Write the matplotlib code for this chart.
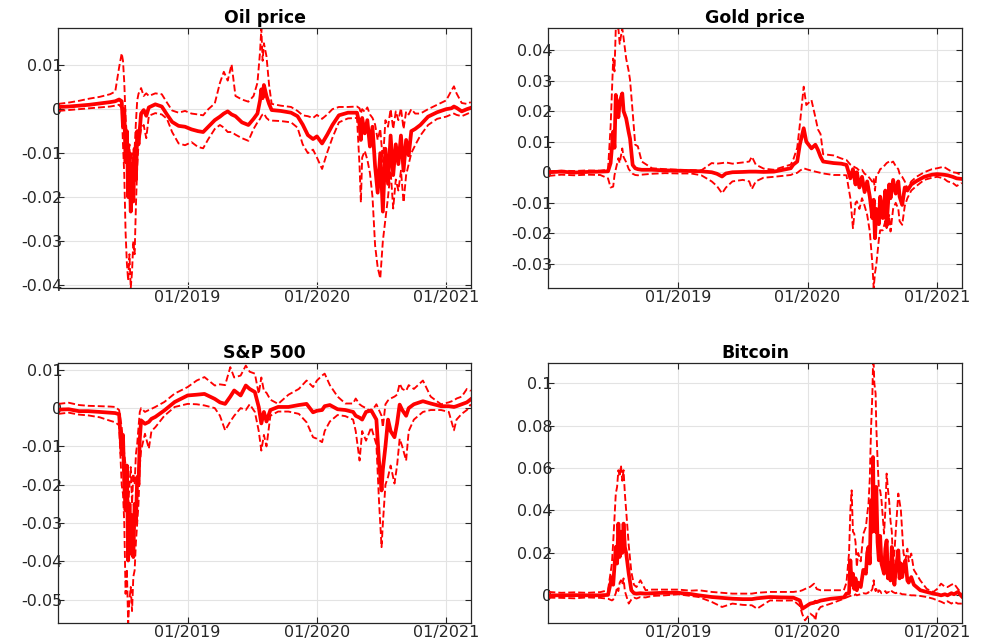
import matplotlib
matplotlib.use("Agg")
import matplotlib.pyplot as plt
from matplotlib.ticker import FuncFormatter

# time in fractional years, median response and the lower / upper bands
oil_t = [2018.00, 2018.08, 2018.16, 2018.24, 2018.32, 2018.40, 2018.44, 2018.47, 2018.49, 2018.50,
         2018.51, 2018.52, 2018.53, 2018.54, 2018.55, 2018.56, 2018.57, 2018.58, 2018.59, 2018.60,
         2018.61, 2018.62, 2018.64, 2018.66, 2018.68, 2018.70, 2018.75, 2018.80, 2018.84, 2018.88,
         2018.93, 2018.98, 2019.03, 2019.08, 2019.12, 2019.16, 2019.21, 2019.25, 2019.28, 2019.31,
         2019.34, 2019.37, 2019.42, 2019.47, 2019.51, 2019.54, 2019.56, 2019.57, 2019.58, 2019.59,
         2019.61, 2019.63, 2019.65, 2019.72, 2019.80, 2019.85, 2019.89, 2019.93, 2019.97, 2020.00,
         2020.04, 2020.08, 2020.12, 2020.17, 2020.24, 2020.31, 2020.33, 2020.34, 2020.35, 2020.37,
         2020.39, 2020.41, 2020.43, 2020.45, 2020.47, 2020.49, 2020.51, 2020.53, 2020.55, 2020.57,
         2020.59, 2020.61, 2020.63, 2020.65, 2020.67, 2020.69, 2020.71, 2020.73, 2020.76, 2020.80,
         2020.86, 2020.93, 2021.00, 2021.04, 2021.06, 2021.08, 2021.12, 2021.16, 2021.19]
oil_mid = [0.0005, 0.0006, 0.0008, 0.0010, 0.0013, 0.0016, 0.0018, 0.0022, 0.0018, -0.0040,
           0.0000, -0.0120, -0.0050, -0.0200, -0.0100, -0.0233, -0.0130, -0.0210, -0.0090, -0.0160,
           -0.0050, -0.0080, -0.0010, -0.0002, -0.0015, 0.0004, 0.0011, 0.0006, -0.0012, -0.0029,
           -0.0038, -0.0040, -0.0046, -0.0050, -0.0052, -0.0040, -0.0025, -0.0017, -0.0010, -0.0005,
           -0.0012, -0.0016, -0.0030, -0.0036, -0.0022, -0.0010, 0.0020, 0.0045, 0.0025, 0.0055,
           0.0030, 0.0012, -0.0002, -0.0004, -0.0008, -0.0016, -0.0035, -0.0059, -0.0068, -0.0062,
           -0.0078, -0.0058, -0.0036, -0.0014, -0.0008, -0.0008, -0.0035, -0.0070, -0.0020, -0.0055,
           -0.0025, -0.0085, -0.0040, -0.0130, -0.0190, -0.0100, -0.0233, -0.0090, -0.0170, -0.0060,
           -0.0150, -0.0080, -0.0125, -0.0060, -0.0140, -0.0070, -0.0105, -0.0050, -0.0045, -0.0036,
           -0.0017, -0.0007, 0.0000, 0.0002, 0.0006, 0.0003, -0.0005, 0.0000, 0.0003]
oil_lo = [-0.0004, -0.0002, 0.0000, 0.0002, 0.0004, 0.0006, 0.0008, 0.0010, 0.0002, -0.0080,
          -0.0150, -0.0280, -0.0350, -0.0390, -0.0330, -0.0407, -0.0370, -0.0300, -0.0330, -0.0220,
          -0.0130, -0.0080, -0.0045, -0.0036, -0.0066, -0.0015, -0.0009, -0.0012, -0.0022, -0.0052,
          -0.0078, -0.0082, -0.0075, -0.0086, -0.0089, -0.0068, -0.0045, -0.0036, -0.0042, -0.0052,
          -0.0052, -0.0058, -0.0066, -0.0072, -0.0045, -0.0030, -0.0022, -0.0016, -0.0012, -0.0010,
          -0.0020, -0.0025, -0.0026, -0.0027, -0.0030, -0.0042, -0.0080, -0.0100, -0.0092, -0.0110,
          -0.0136, -0.0098, -0.0065, -0.0030, -0.0021, -0.0020, -0.0130, -0.0212, -0.0110, -0.0095,
          -0.0115, -0.0145, -0.0200, -0.0310, -0.0360, -0.0385, -0.0300, -0.0250, -0.0200, -0.0140,
          -0.0226, -0.0160, -0.0185, -0.0140, -0.0212, -0.0150, -0.0125, -0.0100, -0.0082, -0.0060,
          -0.0036, -0.0022, -0.0017, -0.0012, -0.0010, -0.0013, -0.0016, -0.0011, -0.0007]
oil_hi = [0.0012, 0.0015, 0.0019, 0.0024, 0.0028, 0.0034, 0.0040, 0.0095, 0.0127, 0.0110,
          0.0060, -0.0020, -0.0060, -0.0120, -0.0080, -0.0170, -0.0100, -0.0190, -0.0090, -0.0030,
          0.0020, 0.0035, 0.0048, 0.0030, 0.0036, 0.0030, 0.0036, 0.0034, 0.0015, -0.0003,
          -0.0008, -0.0004, -0.0010, -0.0012, -0.0014, 0.0000, 0.0013, 0.0060, 0.0085, 0.0065,
          0.0102, 0.0030, 0.0022, 0.0017, 0.0030, 0.0060, 0.0130, 0.0184, 0.0110, 0.0150,
          0.0120, 0.0055, 0.0012, 0.0008, 0.0005, -0.0004, -0.0014, -0.0016, -0.0020, -0.0013,
          -0.0022, -0.0012, 0.0000, 0.0005, 0.0005, 0.0006, 0.0002, -0.0010, 0.0000, -0.0006,
          0.0004, -0.0012, -0.0020, -0.0035, -0.0070, -0.0045, -0.0120, -0.0025, -0.0040, 0.0000,
          -0.0045, -0.0005, -0.0025, 0.0002, -0.0045, -0.0005, -0.0012, 0.0000, -0.0010, -0.0010,
          0.0000, 0.0010, 0.0020, 0.0042, 0.0052, 0.0036, 0.0014, 0.0012, 0.0016]

gold_t = [2018.00, 2018.10, 2018.20, 2018.30, 2018.40, 2018.46, 2018.48, 2018.50, 2018.51, 2018.52,
          2018.54, 2018.55, 2018.57, 2018.58, 2018.60, 2018.62, 2018.63, 2018.65, 2018.67, 2018.69,
          2018.72, 2018.80, 2018.90, 2019.00, 2019.10, 2019.18, 2019.26, 2019.30, 2019.34, 2019.37,
          2019.42, 2019.50, 2019.55, 2019.57, 2019.60, 2019.66, 2019.74, 2019.87, 2019.89, 2019.92,
          2019.94, 2019.97, 2019.99, 2020.03, 2020.06, 2020.08, 2020.10, 2020.12, 2020.20, 2020.26,
          2020.30, 2020.33, 2020.35, 2020.37, 2020.38, 2020.40, 2020.42, 2020.44, 2020.46, 2020.48,
          2020.50, 2020.51, 2020.52, 2020.53, 2020.55, 2020.56, 2020.58, 2020.60, 2020.61, 2020.63,
          2020.64, 2020.66, 2020.68, 2020.70, 2020.71, 2020.73, 2020.75, 2020.77, 2020.80, 2020.84,
          2020.90, 2020.96, 2021.00, 2021.05, 2021.08, 2021.12, 2021.15, 2021.19]
gold_mid = [0.0000, 0.0002, -0.0001, 0.0001, 0.0002, 0.0003, 0.0030, 0.0133, 0.0080, 0.0253,
            0.0180, 0.0230, 0.0258, 0.0200, 0.0176, 0.0130, 0.0110, 0.0024, 0.0013, 0.0010,
            0.0008, 0.0008, 0.0006, 0.0005, 0.0004, 0.0003, 0.0000, -0.0005, -0.0014, -0.0004,
            0.0000, 0.0001, 0.0002, 0.0002, 0.0002, 0.0001, 0.0002, 0.0013, 0.0025, 0.0035,
            0.0090, 0.0144, 0.0100, 0.0078, 0.0090, 0.0073, 0.0051, 0.0035, 0.0030, 0.0028,
            0.0024, -0.0020, 0.0010, -0.0040, 0.0000, -0.0050, -0.0015, -0.0065, -0.0030, -0.0080,
            -0.0150, -0.0090, -0.0216, -0.0120, -0.0170, -0.0080, -0.0150, -0.0060, -0.0175, -0.0040,
            -0.0085, -0.0025, -0.0070, -0.0030, -0.0080, -0.0107, -0.0050, -0.0060, -0.0040, -0.0029,
            -0.0015, -0.0008, -0.0006, -0.0008, -0.0010, -0.0015, -0.0020, -0.0022]
gold_lo = [-0.0012, -0.0008, -0.0010, -0.0008, -0.0009, -0.0020, -0.0050, -0.0047, -0.0010, 0.0010,
           0.0046, 0.0030, 0.0078, 0.0050, 0.0033, 0.0010, 0.0005, -0.0005, -0.0009, -0.0010,
           -0.0008, -0.0005, -0.0003, -0.0004, -0.0004, -0.0010, -0.0030, -0.0045, -0.0069, -0.0050,
           -0.0030, -0.0025, -0.0030, -0.0055, -0.0030, -0.0018, -0.0015, -0.0009, -0.0005, -0.0002,
           0.0005, 0.0013, 0.0010, 0.0005, 0.0002, 0.0000, -0.0002, -0.0004, -0.0009, -0.0009,
           -0.0010, -0.0085, -0.0183, -0.0100, -0.0095, -0.0120, -0.0085, -0.0110, -0.0140, -0.0194,
           -0.0300, -0.0379, -0.0330, -0.0303, -0.0220, -0.0190, -0.0190, -0.0160, -0.0183, -0.0140,
           -0.0194, -0.0120, -0.0100, -0.0120, -0.0160, -0.0172, -0.0110, -0.0085, -0.0060, -0.0045,
           -0.0025, -0.0018, -0.0015, -0.0020, -0.0030, -0.0035, -0.0045, -0.0035]
gold_hi = [0.0003, 0.0005, 0.0004, 0.0006, 0.0005, 0.0008, 0.0150, 0.0372, 0.0330, 0.0471,
           0.0471, 0.0420, 0.0471, 0.0440, 0.0372, 0.0330, 0.0302, 0.0198, 0.0090, 0.0085,
           0.0035, 0.0013, 0.0010, 0.0008, 0.0007, 0.0006, 0.0030, 0.0028, 0.0030, 0.0032,
           0.0028, 0.0032, 0.0035, 0.0051, 0.0025, 0.0012, 0.0008, 0.0025, 0.0042, 0.0080,
           0.0155, 0.0280, 0.0220, 0.0236, 0.0180, 0.0140, 0.0125, 0.0059, 0.0055, 0.0045,
           0.0040, 0.0025, 0.0020, 0.0015, 0.0013, 0.0005, 0.0008, -0.0005, -0.0010, -0.0020,
           -0.0031, -0.0020, -0.0060, -0.0010, 0.0000, 0.0010, 0.0015, 0.0025, 0.0030, 0.0035,
           0.0030, 0.0035, 0.0020, 0.0010, -0.0005, -0.0015, -0.0030, -0.0055, -0.0030, -0.0015,
           0.0000, 0.0010, 0.0013, 0.0018, 0.0010, 0.0000, -0.0002, -0.0010]

sp_t = [2018.00, 2018.08, 2018.16, 2018.23, 2018.32, 2018.40, 2018.44, 2018.47, 2018.49, 2018.50,
        2018.51, 2018.52, 2018.53, 2018.54, 2018.55, 2018.56, 2018.57, 2018.58, 2018.59, 2018.60,
        2018.61, 2018.62, 2018.63, 2018.64, 2018.67, 2018.70, 2018.72, 2018.75, 2018.82, 2018.90,
        2019.00, 2019.07, 2019.13, 2019.21, 2019.25, 2019.29, 2019.33, 2019.36, 2019.41, 2019.45,
        2019.48, 2019.52, 2019.55, 2019.57, 2019.59, 2019.61, 2019.64, 2019.70, 2019.78, 2019.86,
        2019.92, 2019.97, 2020.00, 2020.04, 2020.06, 2020.10, 2020.16, 2020.22, 2020.28, 2020.30,
        2020.33, 2020.35, 2020.38, 2020.42, 2020.46, 2020.48, 2020.50, 2020.51, 2020.53, 2020.55,
        2020.57, 2020.60, 2020.62, 2020.64, 2020.66, 2020.69, 2020.71, 2020.75, 2020.82, 2020.88,
        2020.96, 2021.02, 2021.06, 2021.08, 2021.12, 2021.16, 2021.19]
sp_mid = [-0.0004, -0.0003, -0.0008, -0.0008, -0.0010, -0.0012, -0.0013, -0.0016, -0.0120, -0.0070,
          -0.0200, -0.0267, -0.0150, -0.0398, -0.0250, -0.0380, -0.0280, -0.0389, -0.0250, -0.0300,
          -0.0180, -0.0200, -0.0080, -0.0032, -0.0041, -0.0036, -0.0028, -0.0023, -0.0006, 0.0016,
          0.0033, 0.0035, 0.0037, 0.0024, 0.0015, 0.0011, 0.0030, 0.0046, 0.0033, 0.0059,
          0.0050, 0.0042, 0.0003, -0.0040, -0.0010, -0.0035, -0.0005, 0.0003, 0.0003, 0.0008,
          0.0011, -0.0011, -0.0007, -0.0005, 0.0005, 0.0008, -0.0003, -0.0005, -0.0010, -0.0020,
          -0.0025, -0.0030, -0.0010, -0.0006, -0.0030, -0.0137, -0.0215, -0.0160, -0.0100, -0.0030,
          -0.0060, -0.0076, -0.0040, 0.0009, -0.0005, -0.0020, 0.0000, 0.0010, 0.0018, 0.0012,
          0.0005, 0.0005, 0.0003, 0.0005, 0.0010, 0.0015, 0.0023]
sp_lo = [-0.0015, -0.0012, -0.0017, -0.0019, -0.0024, -0.0033, -0.0037, -0.0045, -0.0200, -0.0224,
         -0.0300, -0.0485, -0.0420, -0.0563, -0.0500, -0.0467, -0.0530, -0.0440, -0.0424, -0.0350,
         -0.0300, -0.0250, -0.0150, -0.0110, -0.0067, -0.0106, -0.0060, -0.0050, -0.0020, 0.0003,
         0.0011, 0.0010, 0.0007, 0.0000, -0.0020, -0.0058, -0.0035, -0.0020, 0.0000, -0.0005,
         0.0010, -0.0010, -0.0060, -0.0111, -0.0070, -0.0100, -0.0020, -0.0009, -0.0009, -0.0015,
         -0.0037, -0.0076, -0.0080, -0.0089, -0.0060, -0.0035, -0.0018, -0.0021, -0.0030, -0.0060,
         -0.0137, -0.0060, -0.0085, -0.0050, -0.0095, -0.0241, -0.0363, -0.0302, -0.0200, -0.0180,
         -0.0150, -0.0197, -0.0150, -0.0080, -0.0100, -0.0137, -0.0060, -0.0030, -0.0010, -0.0005,
         -0.0005, -0.0010, -0.0058, -0.0030, -0.0015, -0.0005, 0.0010]
sp_hi = [0.0011, 0.0014, 0.0008, 0.0006, 0.0005, 0.0004, 0.0003, -0.0005, -0.0050, -0.0090,
         -0.0119, -0.0150, -0.0200, -0.0258, -0.0200, -0.0154, -0.0250, -0.0171, -0.0200, -0.0120,
         -0.0093, -0.0050, -0.0010, 0.0000, -0.0010, -0.0005, -0.0002, 0.0003, 0.0016, 0.0038,
         0.0055, 0.0072, 0.0081, 0.0059, 0.0062, 0.0060, 0.0107, 0.0080, 0.0085, 0.0111,
         0.0095, 0.0090, 0.0037, 0.0080, 0.0045, 0.0040, 0.0022, 0.0011, 0.0035, 0.0050,
         0.0072, 0.0055, 0.0072, 0.0085, 0.0090, 0.0060, 0.0030, 0.0012, 0.0012, 0.0025,
         0.0010, 0.0005, 0.0000, -0.0010, 0.0010, -0.0005, -0.0020, -0.0050, 0.0010, 0.0020,
         0.0025, 0.0030, 0.0035, 0.0064, 0.0050, 0.0045, 0.0060, 0.0050, 0.0072, 0.0030,
         0.0010, 0.0015, 0.0020, 0.0025, 0.0030, 0.0050, 0.0045]

btc_t = [2018.00, 2018.10, 2018.20, 2018.30, 2018.40, 2018.46, 2018.49, 2018.50, 2018.52, 2018.53,
         2018.54, 2018.55, 2018.56, 2018.57, 2018.58, 2018.59, 2018.60, 2018.62, 2018.64, 2018.66,
         2018.68, 2018.71, 2018.75, 2018.80, 2018.90, 2019.00, 2019.10, 2019.16, 2019.26, 2019.34,
         2019.42, 2019.50, 2019.57, 2019.61, 2019.71, 2019.80, 2019.89, 2019.94, 2019.96, 2019.98,
         2020.02, 2020.05, 2020.06, 2020.07, 2020.10, 2020.18, 2020.28, 2020.30, 2020.32, 2020.33,
         2020.34, 2020.35, 2020.36, 2020.37, 2020.38, 2020.39, 2020.41, 2020.43, 2020.45, 2020.46,
         2020.47, 2020.48, 2020.49, 2020.50, 2020.505, 2020.51, 2020.515, 2020.525, 2020.53, 2020.54,
         2020.55, 2020.56, 2020.57, 2020.59, 2020.60, 2020.61, 2020.62, 2020.63, 2020.64, 2020.65,
         2020.66, 2020.67, 2020.68, 2020.70, 2020.71, 2020.72, 2020.73, 2020.74, 2020.755, 2020.77,
         2020.78, 2020.80, 2020.82, 2020.87, 2020.92, 2020.97, 2021.00, 2021.03, 2021.06, 2021.08,
         2021.11, 2021.13, 2021.16, 2021.19]
btc_mid = [0.0000, 0.0000, 0.0001, 0.0000, 0.0000, 0.0002, 0.0086, 0.0050, 0.0228, 0.0150,
           0.0338, 0.0181, 0.0300, 0.0200, 0.0338, 0.0228, 0.0200, 0.0102, 0.0024, 0.0010,
           0.0008, 0.0010, 0.0008, 0.0010, 0.0012, 0.0012, 0.0006, 0.0000, -0.0008, -0.0012,
           -0.0016, -0.0018, -0.0018, -0.0014, -0.0008, -0.0010, -0.0011, -0.0024, -0.0063, -0.0055,
           -0.0039, -0.0035, -0.0030, -0.0032, -0.0025, -0.0016, -0.0010, 0.0008, 0.0010, 0.0165,
           0.0050, 0.0102, 0.0030, 0.0080, 0.0024, 0.0060, 0.0039, 0.0120, 0.0102, 0.0200,
           0.0228, 0.0150, 0.0448, 0.0300, 0.0652, 0.0400, 0.0401, 0.0300, 0.0511, 0.0250,
           0.0165, 0.0280, 0.0150, 0.0102, 0.0220, 0.0259, 0.0080, 0.0150, 0.0070, 0.0228,
           0.0100, 0.0050, 0.0120, 0.0212, 0.0080, 0.0150, 0.0086, 0.0130, 0.0165, 0.0070,
           0.0060, 0.0086, 0.0050, 0.0024, 0.0016, 0.0008, 0.0005, 0.0000, 0.0005, 0.0000,
           0.0010, 0.0005, 0.0016, -0.0005]
btc_lo = [-0.0011, -0.0012, -0.0014, -0.0010, -0.0012, -0.0016, -0.0024, -0.0020, 0.0010, 0.0039,
          0.0020, 0.0060, 0.0071, 0.0050, 0.0080, 0.0020, 0.0000, -0.0039, -0.0020, -0.0011,
          -0.0015, -0.0008, -0.0010, -0.0003, 0.0000, 0.0005, -0.0003, -0.0008, -0.0031, -0.0055,
          -0.0039, -0.0045, -0.0047, -0.0063, -0.0024, -0.0025, -0.0024, -0.0050, -0.0090, -0.0118,
          -0.0086, -0.0100, -0.0118, -0.0080, -0.0055, -0.0039, -0.0016, -0.0010, -0.0005, -0.0003,
          0.0000, -0.0002, 0.0000, 0.0005, 0.0000, 0.0002, 0.0005, 0.0010, 0.0008, 0.0010,
          0.0015, 0.0010, 0.0020, 0.0030, 0.0050, 0.0071, 0.0040, 0.0020, 0.0030, 0.0010,
          0.0024, 0.0020, 0.0010, 0.0015, 0.0020, 0.0010, 0.0015, 0.0015, 0.0010, 0.0020,
          0.0015, 0.0012, 0.0010, 0.0015, 0.0010, 0.0008, 0.0005, 0.0005, 0.0004, 0.0003,
          0.0002, 0.0000, 0.0000, -0.0003, -0.0008, -0.0016, -0.0024, -0.0030, -0.0039, -0.0028,
          -0.0039, -0.0030, -0.0039, -0.0039]
btc_hi = [0.0016, 0.0012, 0.0014, 0.0012, 0.0015, 0.0024, 0.0150, 0.0250, 0.0480, 0.0511,
          0.0590, 0.0560, 0.0613, 0.0540, 0.0590, 0.0480, 0.0400, 0.0236, 0.0110, 0.0050,
          0.0039, 0.0071, 0.0024, 0.0027, 0.0027, 0.0027, 0.0022, 0.0024, 0.0016, 0.0012,
          0.0008, 0.0008, 0.0008, 0.0012, 0.0016, 0.0016, 0.0016, 0.0020, 0.0024, 0.0030,
          0.0040, 0.0055, 0.0045, 0.0030, 0.0024, 0.0024, 0.0024, 0.0060, 0.0200, 0.0400,
          0.0495, 0.0300, 0.0291, 0.0250, 0.0134, 0.0200, 0.0160, 0.0290, 0.0322, 0.0380,
          0.0432, 0.0550, 0.0794, 0.0950, 0.1094, 0.1094, 0.1000, 0.0951, 0.0800, 0.0637,
          0.0500, 0.0495, 0.0450, 0.0291, 0.0400, 0.0574, 0.0500, 0.0440, 0.0350, 0.0300,
          0.0134, 0.0200, 0.0300, 0.0480, 0.0440, 0.0401, 0.0300, 0.0200, 0.0165, 0.0220,
          0.0160, 0.0197, 0.0120, 0.0070, 0.0030, 0.0016, 0.0030, 0.0055, 0.0040, 0.0039,
          0.0050, 0.0055, 0.0030, 0.0008]

titles = ["Oil price", "Gold price", "S&P 500", "Bitcoin"]
ylims = [(-0.0407, 0.0184), (-0.0379, 0.0471), (-0.0562, 0.0117), (-0.0132, 0.1094)]
yticks = [[-0.04, -0.03, -0.02, -0.01, 0, 0.01],
          [-0.03, -0.02, -0.01, 0, 0.01, 0.02, 0.03, 0.04],
          [-0.05, -0.04, -0.03, -0.02, -0.01, 0, 0.01],
          [0, 0.02, 0.04, 0.06, 0.08, 0.1]]
xticks = [2019, 2020, 2021]
xticklabels = ["01/2019", "01/2020", "01/2021"]

panels = [(oil_t, oil_mid, oil_lo, oil_hi),
          (gold_t, gold_mid, gold_lo, gold_hi),
          (sp_t, sp_mid, sp_lo, sp_hi),
          (btc_t, btc_mid, btc_lo, btc_hi)]

plt.rcParams["font.family"] = "DejaVu Sans"
plt.rcParams["axes.unicode_minus"] = False

fig = plt.figure(figsize=(9.89, 6.43), dpi=100)
boxes = [[0.059, 0.552, 0.417, 0.404],
         [0.5545, 0.552, 0.418, 0.404],
         [0.059, 0.0306, 0.417, 0.4044],
         [0.5545, 0.0306, 0.418, 0.4044]]


def fmt(v, pos):
    v = round(v, 4)
    if v == 0:
        return "0"
    return f"{v:g}"


for i, (t, mid, lo, hi) in enumerate(panels):
    ax = fig.add_axes(boxes[i])
    ax.plot(t, lo, color="red", linestyle="--", linewidth=1.35)
    ax.plot(t, hi, color="red", linestyle="--", linewidth=1.35)
    ax.plot(t, mid, color="red", linestyle="-", linewidth=2.7)
    ax.set_xlim(2018.0, 2021.19)
    ax.set_ylim(*ylims[i])
    ax.set_xticks(xticks)
    ax.set_xticklabels(xticklabels)
    ax.set_yticks(yticks[i])
    ax.yaxis.set_major_formatter(FuncFormatter(fmt))
    ax.grid(True, color="#e3e3e3", linewidth=0.8)
    ax.set_axisbelow(True)
    ax.tick_params(direction="in", length=4, width=0.8, top=True, right=True,
                   labelsize=11.5, colors="#262626")
    ax.tick_params(axis="y", pad=-3)
    ax.tick_params(axis="x", pad=1.5)
    for s in ax.spines.values():
        s.set_linewidth(0.9)
        s.set_color("#262626")
    ax.set_title(titles[i], fontsize=12.5, fontweight="bold", pad=4)

fig.savefig("out.png", dpi=100)
